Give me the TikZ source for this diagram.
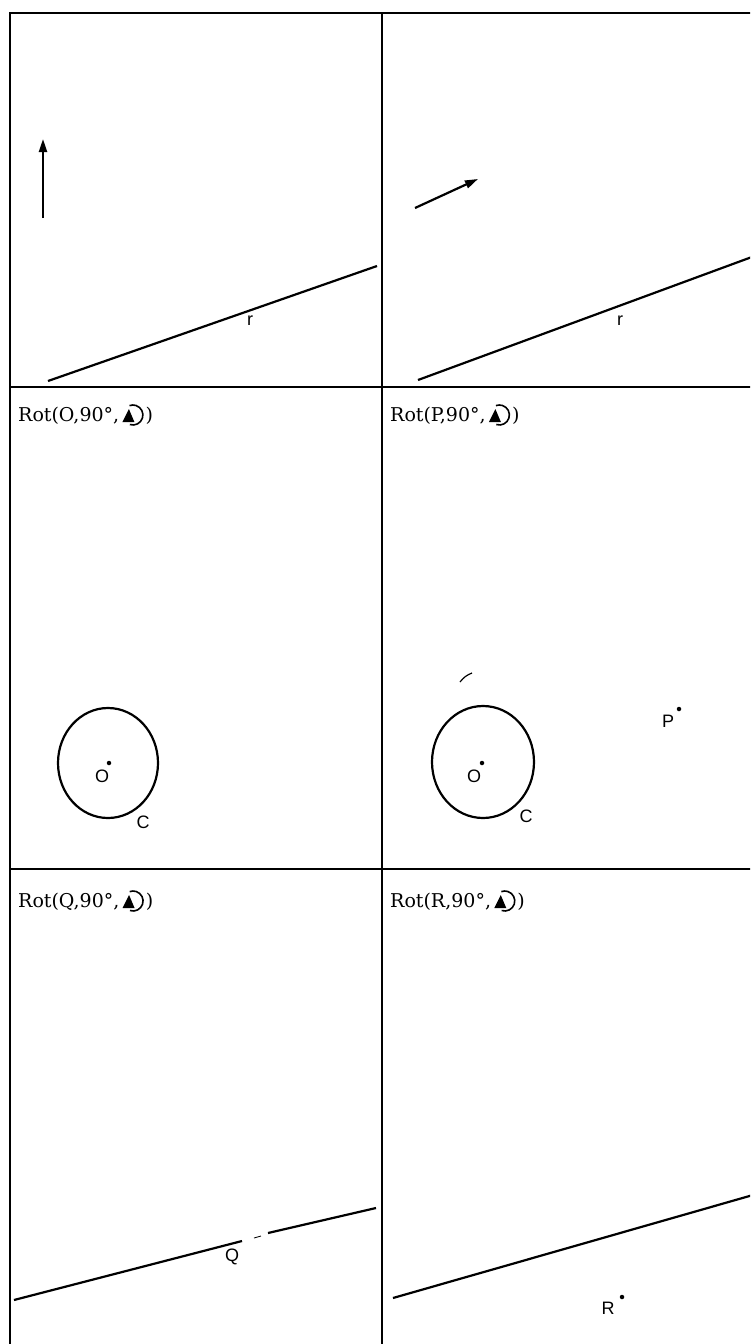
\documentclass[tikz,border=0pt]{standalone}
\usepackage{fontspec}
\usetikzlibrary{arrows.meta,shapes.geometric}
\newfontfamily\labfont{Liberation Sans}
\newfontfamily\rotfont{DejaVu Serif}
\newcommand{\rotlab}[4]{%
  \node[rotlabel] (#1) at (#2,#3) {Rot(#4,90°,};
  \path (#1.base east) ++(13.5,-6) coordinate (#1c);
  \draw[line width=1.6pt] (#1c) ++(108:10) arc[start angle=108,end angle=-110,radius=10];
  \fill (#1c) ++(-10.5,7) -- ++(12,0) -- ++(-5.5,-13) -- cycle;
  \node[rotlabel] (#1p) at ([xshift=26pt]#1.base east) {)};
}
\begin{document}
\begin{tikzpicture}[x=1pt,y=-1pt,
  frame/.style={line width=2.4pt},
  geo/.style={line width=2.2pt},
  vec/.style={line width=2.2pt,-{Triangle[length=13pt,width=8pt]}},
  lab/.style={font=\labfont\fontsize{18}{18}\selectfont, inner sep=0pt},
  rotlabel/.style={font=\rotfont\fontsize{19}{19}\selectfont, inner sep=0pt, anchor=base west},
  pt/.style={circle, fill, inner sep=0pt, minimum size=4.5pt}]
\useasboundingbox (0,0) rectangle (750,1344);
\clip (0,0) rectangle (750,1344);
\fill[white] (0,0) rectangle (750,1344);
% frame
\coordinate (f1) at (10,13);
\coordinate (f2) at (770,1360);
\draw[frame] (f1) rectangle (f2);
\coordinate (mt) at (382,13);
\coordinate (mb) at (382,1360);
\draw[frame] (mt) -- (mb);
\coordinate (h1l) at (10,387);
\coordinate (h1r) at (770,387);
\draw[frame] (h1l) -- (h1r);
\coordinate (h2l) at (10,869);
\coordinate (h2r) at (770,869);
\draw[frame] (h2l) -- (h2r);

% panel 1
\coordinate (v1a) at (43,218);
\coordinate (v1b) at (43,139);
\draw[vec] (v1a) -- (v1b);
\coordinate (r1a) at (48,381);
\coordinate (r1b) at (377,266);
\draw[geo] (r1a) -- (r1b);
\node[lab] (r1) at (250,321) {r};

% panel 2
\coordinate (v2a) at (415,208);
\coordinate (v2b) at (478,179);
\draw[vec] (v2a) -- (v2b);
\coordinate (r2a) at (418,380);
\coordinate (r2b) at (760,254);
\draw[geo] (r2a) -- (r2b);
\node[lab] (r2) at (620,321) {r};

% panel 3
\rotlab{L3}{18}{421}{O}
\node[geo, draw, ellipse, minimum width=100pt, minimum height=110pt, inner sep=0pt] (c3) at (108,763) {};
\node[pt] (o3) at (109,763) {};
\node[lab] (o3l) at (102,776) {O};
\node[lab] (c3l) at (143,822) {C};

% panel 4
\rotlab{L4}{390}{421}{P}
\node[geo, draw, ellipse, minimum width=102pt, minimum height=112pt, inner sep=0pt] (c4) at (483,762) {};
\node[pt] (o4) at (482,763) {};
\node[lab] (o4l) at (474,776) {O};
\node[lab] (c4l) at (526,816) {C};
\node[pt] (p4) at (679,709) {};
\node[lab] (p4l) at (668,721) {P};
\coordinate (m4a) at (460,682);
\coordinate (m4b) at (472,673);
\draw[line width=1.2pt] (m4a) to[bend left=15] (m4b);

% panel 5
\rotlab{L5}{18}{907}{Q}
\coordinate (q1a) at (14,1300);
\coordinate (q1b) at (242,1241);
\draw[geo] (q1a) -- (q1b);
\coordinate (q2a) at (254,1238);
\coordinate (q2b) at (261,1236);
\draw[line width=0.8pt] (q2a) -- (q2b);
\coordinate (q3a) at (268,1233);
\coordinate (q3b) at (376,1208);
\draw[geo] (q3a) -- (q3b);
\node[lab] (q5l) at (232,1257) {Q};

% panel 6
\rotlab{L6}{390}{907}{R}
\coordinate (s6a) at (393,1298);
\coordinate (s6b) at (760,1193);
\draw[geo] (s6a) -- (s6b);
\node[pt] (r6) at (622,1297) {};
\node[lab] (r6l) at (608,1308) {R};
\end{tikzpicture}
\end{document}
